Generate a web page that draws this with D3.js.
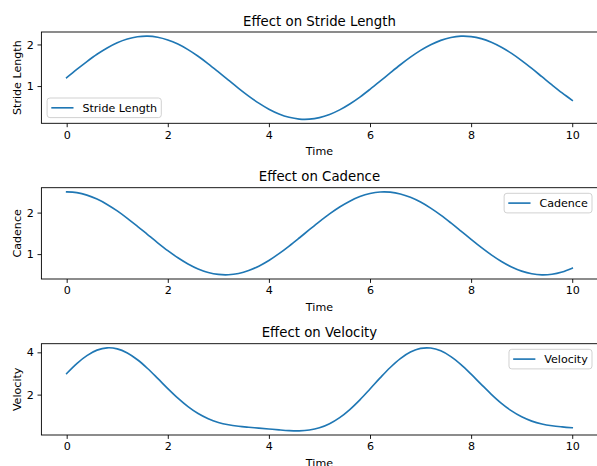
<!DOCTYPE html>
<html><head><meta charset="utf-8">
<script src="https://cdn.jsdelivr.net/npm/d3@7"></script>
<style>body{margin:0;background:#fff}svg{display:block}text{font-family:"DejaVu Sans",sans-serif;fill:#000}</style>
</head><body>
<script>
const time = [0,0.2,0.4,0.6,0.8,1.0,1.2,1.4,1.6,1.8,2.0,2.2,2.4,2.6,2.8,3.0,3.2,3.4,3.6,3.8,4.0,4.2,4.4,4.6,4.8,5.0,5.2,5.4,5.6,5.8,6.0,6.2,6.4,6.6,6.8,7.0,7.2,7.4,7.6,7.8,8.0,8.2,8.4,8.6,8.8,9.0,9.2,9.4,9.6,9.8,10.0];
const strideLength = [1.200,1.399,1.589,1.765,1.917,2.042,2.132,2.185,2.200,2.174,2.109,2.009,1.876,1.716,1.535,1.341,1.142,0.945,0.758,0.588,0.443,0.328,0.248,0.206,0.204,0.241,0.317,0.427,0.569,0.735,0.921,1.117,1.317,1.512,1.694,1.857,1.994,2.099,2.168,2.199,2.189,2.141,2.055,1.934,1.785,1.612,1.423,1.225,1.026,0.834,0.656];
const cadence = [2.500,2.480,2.421,2.325,2.197,2.040,1.862,1.670,1.471,1.273,1.084,0.912,0.763,0.643,0.558,0.510,0.502,0.533,0.603,0.709,0.846,1.010,1.193,1.388,1.588,1.784,1.969,2.135,2.276,2.386,2.460,2.497,2.493,2.450,2.369,2.254,2.108,1.939,1.751,1.554,1.355,1.161,0.981,0.821,0.689,0.589,0.525,0.500,0.515,0.570,0.661];
const velocity = [3.000,3.470,3.847,4.104,4.212,4.165,3.970,3.649,3.236,2.767,2.286,1.832,1.431,1.103,0.857,0.684,0.573,0.504,0.457,0.417,0.375,0.331,0.296,0.286,0.324,0.430,0.624,0.912,1.295,1.754,2.266,2.789,3.283,3.704,4.013,4.186,4.203,4.070,3.796,3.417,2.966,2.486,2.016,1.588,1.230,0.949,0.747,0.613,0.528,0.475,0.434];
const xTicks = [0,2,4,6,8,10];
const titles = ["Effect on Stride Length","Effect on Cadence","Effect on Velocity"];
const yLabels = ["Stride Length","Cadence","Velocity"];
const yTicksList = [[1,2],[1,2],[2,4]];
const legendLocs = ["lower left","upper right","upper right"];
const seriesList = [strideLength, cadence, velocity];

const W = 597, H = 466;
const svg = d3.select("body").append("svg").attr("width", W).attr("height", H);
const left = 41.4, right = 597.5, panelH = 91.3;
const tops = [32, 187.7, 343.7];
const color = "#1f77b4";
const fs = 11.1;

const x = d3.scaleLinear().domain([-0.5, 10.5]).range([left, right]);

seriesList.forEach((vals, i) => {
  const top = tops[i], bottom = top + panelH;
  const ext = d3.extent(vals);
  const m = (ext[1] - ext[0]) * 0.05;
  const y = d3.scaleLinear().domain([ext[0] - m, ext[1] + m]).range([bottom, top]);
  const g = svg.append("g");

  const line = d3.line().x((d, k) => x(time[k])).y(d => y(d)).curve(d3.curveCatmullRom);
  g.append("path").datum(vals).attr("d", line).attr("fill", "none")
    .attr("stroke", color).attr("stroke-width", 1.65).attr("stroke-linecap", "square");

  const xa = g.append("g").attr("transform", `translate(0,${bottom})`)
    .call(d3.axisBottom(x).tickValues(xTicks).tickSize(3.9).tickPadding(3.6).tickFormat(d3.format("d")));
  const ya = g.append("g").attr("transform", `translate(${left},0)`)
    .call(d3.axisLeft(y).tickValues(yTicksList[i]).tickSize(3.9).tickPadding(3.6).tickFormat(d3.format("d")));
  [xa, ya].forEach(a => {
    a.select(".domain").remove();
    a.selectAll("line").attr("stroke", "#000").attr("stroke-width", 0.9);
    a.selectAll("text").style("font-size", fs + "px").attr("fill", "#000");
  });

  // spines
  g.append("rect").attr("x", left).attr("y", top).attr("width", right - left).attr("height", panelH)
    .attr("fill", "none").attr("stroke", "#000").attr("stroke-width", 0.9);

  g.append("text").attr("x", (left + right) / 2).attr("y", top - 6.3)
    .attr("text-anchor", "middle").style("font-size", "13.3px").text(titles[i]);
  g.append("text").attr("x", (left + right) / 2).attr("y", bottom + 31.7)
    .attr("text-anchor", "middle").style("font-size", fs + "px").text("Time");
  g.append("text").attr("transform", `translate(21.3,${(top + bottom) / 2}) rotate(-90)`)
    .attr("text-anchor", "middle").style("font-size", fs + "px").text(yLabels[i]);

  // legend
  const lg = g.append("g");
  const box = lg.append("rect").attr("rx", 2.8).attr("ry", 2.8)
    .attr("fill", "#fff").attr("fill-opacity", 0.8).attr("stroke", "#cccccc").attr("stroke-width", 0.9);
  const t = lg.append("text").style("font-size", fs + "px").text(yLabels[i]);
  const tw = t.node().getComputedTextLength();
  const bw = 4.2 + 22.2 + 8.9 + tw + 4.2, bh = 19.6;
  let bx, by;
  if (legendLocs[i] === "lower left") { bx = left + 5.7; by = bottom - 5.7 - bh; }
  else { bx = right - 5.5 - bw; by = top + 5.6; }
  box.attr("x", bx).attr("y", by).attr("width", bw).attr("height", bh);
  lg.append("line").attr("x1", bx + 4.2).attr("x2", bx + 26.4).attr("y1", by + bh / 2).attr("y2", by + bh / 2)
    .attr("stroke", color).attr("stroke-width", 1.65);
  t.attr("x", bx + 35.3).attr("y", by + bh / 2 + 4);
});
</script>
</body></html>
